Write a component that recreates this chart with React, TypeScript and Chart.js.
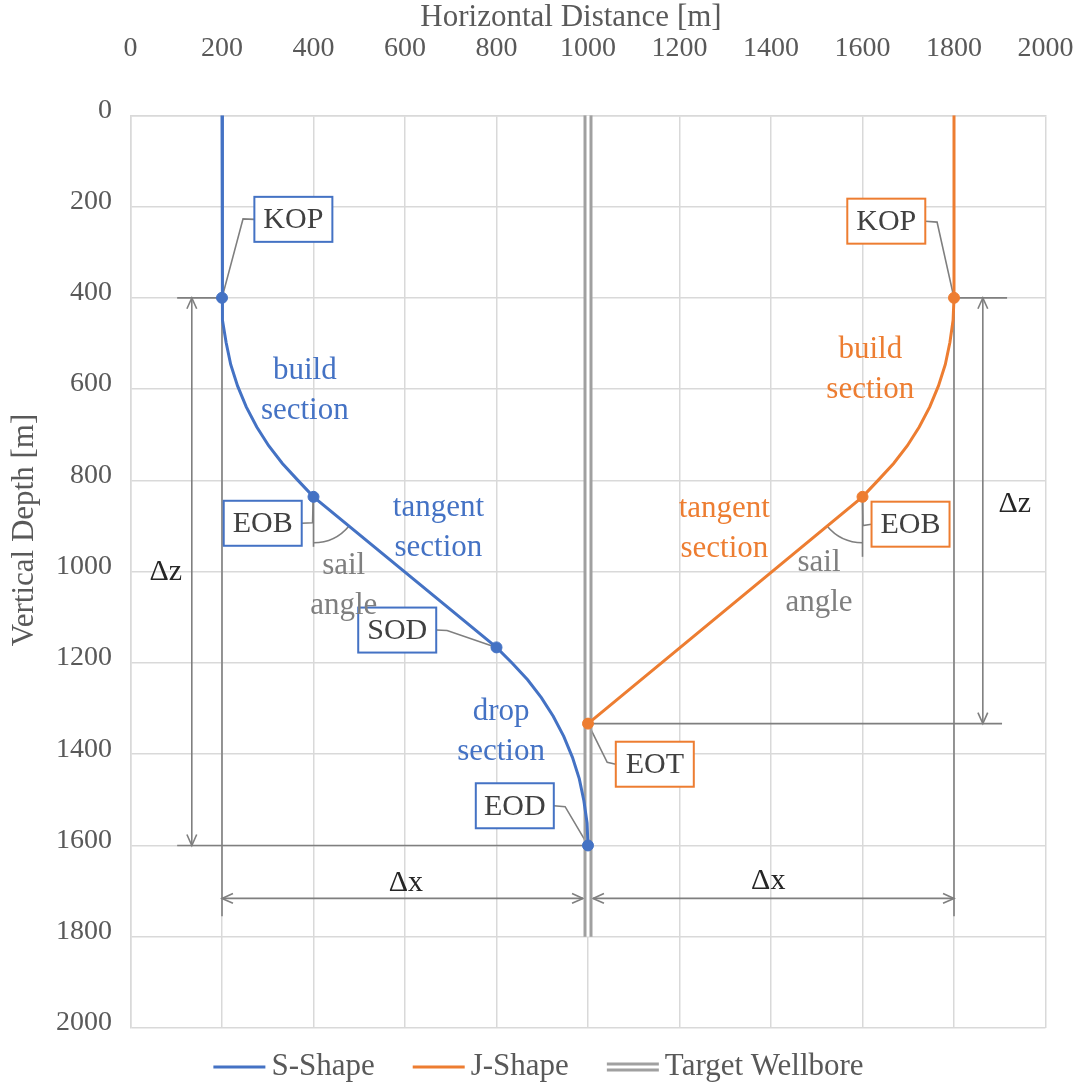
import React, { useEffect, useRef } from 'react';
import { Chart, registerables } from 'chart.js';

Chart.register(...registerables);

// ---------------- data ----------------
const sShapeX = [200, 200, 202, 209, 219, 234, 253, 276, 302, 332, 366, 400, 800, 834, 868, 898, 924, 947, 966, 981, 991, 998, 1000];
const sShapeZ = [0, 400, 449, 498, 546, 593, 639, 683, 724, 763, 800, 836, 1166, 1200, 1237, 1276, 1317, 1361, 1407, 1454, 1502, 1551, 1600];

const jShapeX = [1800, 1800, 1798, 1791, 1781, 1766, 1747, 1724, 1698, 1668, 1634, 1600, 1000];
const jShapeZ = [0, 400, 449, 498, 546, 593, 639, 683, 724, 763, 800, 836, 1333];

const targetX = [1000, 1000];
const targetZ = [0, 1800];

const sPointNames = ['KOP', 'EOB', 'SOD', 'EOD'];
const sPointX = [200, 400, 800, 1000];
const sPointZ = [400, 836, 1166, 1600];

const jPointNames = ['KOP', 'EOB', 'EOT'];
const jPointX = [1800, 1600, 1000];
const jPointZ = [400, 836, 1333];

const seriesNames = ['S-Shape', 'J-Shape', 'Target Wellbore'];
const axisMin = 0;
const axisMax = 2000;
const axisStep = 200;

// ---------------- styles ----------------
const BLUE = '#4472C4';
const ORANGE = '#ED7D31';
const WELL = '#a0a0a0';
const DIM = '#7f7f7f';
const TEXT = '#595959';
const DARK = '#404040';
const GRID = '#d9d9d9';
const FONT_FAMILY = '"Liberation Serif", "Times New Roman", serif';
const TICK_FS = 28;
const FS = 31;

// annotation layout (data coordinates)
const callouts = [
  { text: sPointNames[0], x: 356, z: 228, color: BLUE, side: 'left', via: [[246, 227]], to: [sPointX[0], sPointZ[0]] },
  { text: jPointNames[0], x: 1652, z: 232, color: ORANGE, side: 'right', via: [[1763, 234]], to: [jPointX[0], jPointZ[0]] },
  { text: sPointNames[1], x: 289, z: 894, color: BLUE, side: 'right', via: [[398, 893], [399, 849]], to: [sPointX[1], sPointZ[1]] },
  { text: sPointNames[2], x: 583, z: 1128, color: BLUE, side: 'right', via: [[692, 1129]], to: [sPointX[2], sPointZ[2]] },
  { text: sPointNames[3], x: 840, z: 1513, color: BLUE, side: 'right', via: [[950, 1515]], to: [sPointX[3], sPointZ[3]] },
  { text: jPointNames[1], x: 1705, z: 896, color: ORANGE, side: 'left', via: [[1601, 899]], to: [jPointX[1], jPointZ[1]] },
  { text: jPointNames[2], x: 1146, z: 1422, color: ORANGE, side: 'left', via: [[1042, 1418]], to: [jPointX[2], jPointZ[2]] },
];

const sectionLabels = [
  { lines: ['build', 'section'], x: 381, z: 603, color: BLUE },
  { lines: ['tangent', 'section'], x: 673, z: 904, color: BLUE },
  { lines: ['drop', 'section'], x: 810, z: 1352, color: BLUE },
  { lines: ['build', 'section'], x: 1617, z: 558, color: ORANGE },
  { lines: ['tangent', 'section'], x: 1298, z: 907, color: ORANGE },
  { lines: ['sail', 'angle'], x: 466, z: 1031, color: DIM },
  { lines: ['sail', 'angle'], x: 1505, z: 1025, color: DIM },
];

const dimLines = [
  { x1: 102, z1: 400, x2: 200, z2: 400 },
  { x1: 1800, z1: 400, x2: 1916, z2: 400 },
  { x1: 102, z1: 1600, x2: 1000, z2: 1600 },
  { x1: 1000, z1: 1333, x2: 1905, z2: 1333 },
  { x1: 200, z1: 400, x2: 200, z2: 1755 },
  { x1: 1800, z1: 400, x2: 1800, z2: 1755 },
];

const dimArrows = [
  { x1: 134, z1: 400, x2: 134, z2: 1600, in1: 0, in2: 0 },
  { x1: 1863, z1: 400, x2: 1863, z2: 1333, in1: 0, in2: 0 },
  { x1: 200, z1: 1716, x2: 1000, z2: 1716, in1: 0, in2: 5 },
  { x1: 1000, z1: 1716, x2: 1800, z2: 1716, in1: 5, in2: 0 },
];

const dimLabels = [
  { t: 'Δz', x: 77, z: 1002 },
  { t: 'Δz', x: 1933, z: 853 },
  { t: 'Δx', x: 602, z: 1683 },
  { t: 'Δx', x: 1394, z: 1679 },
];

const sailAngles = [
  { x: sPointX[1], z: sPointZ[1], tx: sPointX[2], tz: sPointZ[2], len: 50, r: 46 },
  { x: jPointX[1], z: jPointZ[1], tx: jPointX[2], tz: jPointZ[2], len: 60, r: 46 },
];

const font = (size = FS) => `${size}px ${FONT_FAMILY}`;

function chevron(ctx: CanvasRenderingContext2D, x: number, y: number, ang: number) {
  const L = 12;
  const a = 0.42;
  ctx.beginPath();
  ctx.moveTo(x - L * Math.cos(ang - a), y - L * Math.sin(ang - a));
  ctx.lineTo(x, y);
  ctx.lineTo(x - L * Math.cos(ang + a), y - L * Math.sin(ang + a));
  ctx.stroke();
}

const BOX_W = 78;
const BOX_H = 45;

const annotationPlugin = {
  id: 'wellAnnotations',
  beforeDatasetsDraw(chart: any) {
    const ctx: CanvasRenderingContext2D = chart.ctx;
    const X = (v: number) => chart.scales.x.getPixelForValue(v);
    const Y = (v: number) => chart.scales.y.getPixelForValue(v);
    ctx.save();
    ctx.strokeStyle = DIM;
    ctx.lineWidth = 1.6;
    dimLines.forEach((d) => {
      ctx.beginPath();
      ctx.moveTo(X(d.x1), Y(d.z1));
      ctx.lineTo(X(d.x2), Y(d.z2));
      ctx.stroke();
    });
    dimArrows.forEach((d) => {
      let ax = X(d.x1), ay = Y(d.z1), bx = X(d.x2), by = Y(d.z2);
      const ang = Math.atan2(by - ay, bx - ax);
      ax += Math.cos(ang) * d.in1; ay += Math.sin(ang) * d.in1;
      bx -= Math.cos(ang) * d.in2; by -= Math.sin(ang) * d.in2;
      ctx.beginPath();
      ctx.moveTo(ax, ay);
      ctx.lineTo(bx, by);
      ctx.stroke();
      chevron(ctx, bx, by, ang);
      chevron(ctx, ax, ay, ang + Math.PI);
    });
    sailAngles.forEach((s) => {
      const cx = X(s.x), cy = Y(s.z);
      const ang = Math.atan2(Y(s.tz) - cy, X(s.tx) - cx);
      ctx.beginPath();
      ctx.moveTo(cx, cy);
      ctx.lineTo(cx, cy + s.len);
      ctx.stroke();
      ctx.beginPath();
      if (ang < Math.PI / 2) ctx.arc(cx, cy, s.r, ang, Math.PI / 2);
      else ctx.arc(cx, cy, s.r, Math.PI / 2, ang);
      ctx.stroke();
    });
    callouts.forEach((c) => {
      const cx = X(c.x), cy = Y(c.z);
      const sx = c.side === 'left' ? cx - BOX_W / 2 : cx + BOX_W / 2;
      ctx.beginPath();
      ctx.moveTo(sx, cy);
      c.via.forEach((p) => ctx.lineTo(X(p[0]), Y(p[1])));
      ctx.lineTo(X(c.to[0]), Y(c.to[1]));
      ctx.stroke();
    });
    ctx.restore();
  },
  afterDatasetsDraw(chart: any) {
    const ctx: CanvasRenderingContext2D = chart.ctx;
    const X = (v: number) => chart.scales.x.getPixelForValue(v);
    const Y = (v: number) => chart.scales.y.getPixelForValue(v);
    ctx.save();
    callouts.forEach((c) => {
      const cx = X(c.x), cy = Y(c.z);
      ctx.fillStyle = '#ffffff';
      ctx.fillRect(cx - BOX_W / 2, cy - BOX_H / 2, BOX_W, BOX_H);
      ctx.strokeStyle = c.color;
      ctx.lineWidth = 2;
      ctx.strokeRect(cx - BOX_W / 2, cy - BOX_H / 2, BOX_W, BOX_H);
      ctx.fillStyle = DARK;
      ctx.font = font(30);
      ctx.textAlign = 'center';
      ctx.textBaseline = 'middle';
      ctx.fillText(c.text, cx, cy + 1);
    });
    sectionLabels.forEach((s) => {
      ctx.fillStyle = s.color;
      ctx.font = font(FS);
      ctx.textAlign = 'center';
      ctx.textBaseline = 'middle';
      const cx = X(s.x), cy = Y(s.z);
      const lh = 40;
      s.lines.forEach((ln, i) => {
        ctx.fillText(ln, cx, cy + (i - (s.lines.length - 1) / 2) * lh);
      });
    });
    dimLabels.forEach((d) => {
      ctx.fillStyle = '#262626';
      ctx.font = font(30);
      ctx.textAlign = 'center';
      ctx.textBaseline = 'middle';
      ctx.fillText(d.t, X(d.x), Y(d.z));
    });
    ctx.restore();
  },
  afterDraw(chart: any) {
    const ctx: CanvasRenderingContext2D = chart.ctx;
    ctx.save();
    ctx.fillStyle = TEXT;
    ctx.font = font(FS);
    ctx.textAlign = 'center';
    ctx.textBaseline = 'alphabetic';
    ctx.fillText('Horizontal Distance [m]', 571, 26);
    ctx.save();
    ctx.translate(33, 530);
    ctx.rotate(-Math.PI / 2);
    ctx.fillText('Vertical Depth [m]', 0, 0);
    ctx.restore();

    // legend
    const colors = [BLUE, ORANGE, WELL];
    const lineLen = 52, gapLT = 6, gapItems = 38;
    ctx.font = font(FS);
    const widths = seriesNames.map((n) => ctx.measureText(n).width);
    const total = widths.reduce((a, w) => a + lineLen + gapLT + w, 0) + gapItems * (seriesNames.length - 1);
    let x = chart.width / 2 - total / 2;
    const y = 1067;
    seriesNames.forEach((n, i) => {
      ctx.strokeStyle = colors[i];
      ctx.lineWidth = 3;
      if (i < 2) {
        ctx.beginPath();
        ctx.moveTo(x, y);
        ctx.lineTo(x + lineLen, y);
        ctx.stroke();
      } else {
        [-3, 3].forEach((o) => {
          ctx.beginPath();
          ctx.moveTo(x, y + o);
          ctx.lineTo(x + lineLen, y + o);
          ctx.stroke();
        });
      }
      ctx.fillStyle = TEXT;
      ctx.textAlign = 'left';
      ctx.textBaseline = 'middle';
      ctx.fillText(n, x + lineLen + gapLT, y);
      x += lineLen + gapLT + widths[i] + gapItems;
    });
    ctx.restore();
  },
};

const toPoints = (xs: number[], zs: number[]) => xs.map((x, i) => ({ x, y: zs[i] }));

export default function App() {
  const canvasRef = useRef<HTMLCanvasElement>(null);

  useEffect(() => {
    const canvas = canvasRef.current;
    if (!canvas) return;
    const chart = new Chart(canvas, {
      type: 'scatter',
      data: {
        datasets: [
          {
            label: 'S-Shape points',
            data: toPoints(sPointX, sPointZ),
            backgroundColor: BLUE,
            borderColor: BLUE,
            pointRadius: 5.5,
            showLine: false,
          },
          {
            label: 'J-Shape points',
            data: toPoints(jPointX, jPointZ),
            backgroundColor: ORANGE,
            borderColor: ORANGE,
            pointRadius: 5.5,
            showLine: false,
          },
          {
            label: seriesNames[0],
            data: toPoints(sShapeX, sShapeZ),
            borderColor: BLUE,
            borderWidth: 3,
            pointRadius: 0,
            showLine: true,
            tension: 0,
          },
          {
            label: seriesNames[1],
            data: toPoints(jShapeX, jShapeZ),
            borderColor: ORANGE,
            borderWidth: 3,
            pointRadius: 0,
            showLine: true,
            tension: 0,
          },
          {
            label: 'Target inner',
            data: toPoints(targetX, targetZ),
            borderColor: '#ffffff',
            borderWidth: 3,
            pointRadius: 0,
            showLine: true,
          },
          {
            label: seriesNames[2],
            data: toPoints(targetX, targetZ),
            borderColor: WELL,
            borderWidth: 9,
            pointRadius: 0,
            showLine: true,
          },
        ],
      },
      options: {
        responsive: false,
        animation: false,
        layout: { padding: { left: 0, top: 0, right: 31.5, bottom: 56 } },
        plugins: {
          legend: { display: false },
          tooltip: { enabled: false },
        },
        scales: {
          x: {
            type: 'linear',
            position: 'top',
            min: axisMin,
            max: axisMax,
            ticks: {
              stepSize: axisStep,
              color: TEXT,
              font: { family: FONT_FAMILY, size: TICK_FS },
              padding: 50,
              callback: (v: any) => String(v),
            },
            grid: { color: GRID, lineWidth: 1.5, drawTicks: false },
            border: { display: true, color: GRID, width: 1.5 },
            afterFit: (scale: any) => {
              scale.height = 115.3;
              scale.paddingLeft = 0;
              scale.paddingRight = 0;
            },
          },
          y: {
            type: 'linear',
            reverse: true,
            min: axisMin,
            max: axisMax,
            ticks: {
              stepSize: axisStep,
              color: TEXT,
              font: { family: FONT_FAMILY, size: TICK_FS },
              padding: 18.5,
              labelOffset: -5,
              callback: (v: any) => String(v),
            },
            grid: { color: GRID, lineWidth: 1.5, drawTicks: false },
            border: { display: true, color: GRID, width: 1.5 },
            afterFit: (scale: any) => {
              scale.width = 130.5;
              scale.paddingTop = 0;
              scale.paddingBottom = 0;
            },
          },
        },
      } as any,
      plugins: [annotationPlugin as any],
    });
    return () => chart.destroy();
  }, []);

  return (
    <div style={{ position: 'absolute', left: 0, top: 0, width: 1077, height: 1084, background: '#ffffff' }}>
      <canvas ref={canvasRef} width={1077} height={1084} style={{ display: 'block' }} />
    </div>
  );
}
